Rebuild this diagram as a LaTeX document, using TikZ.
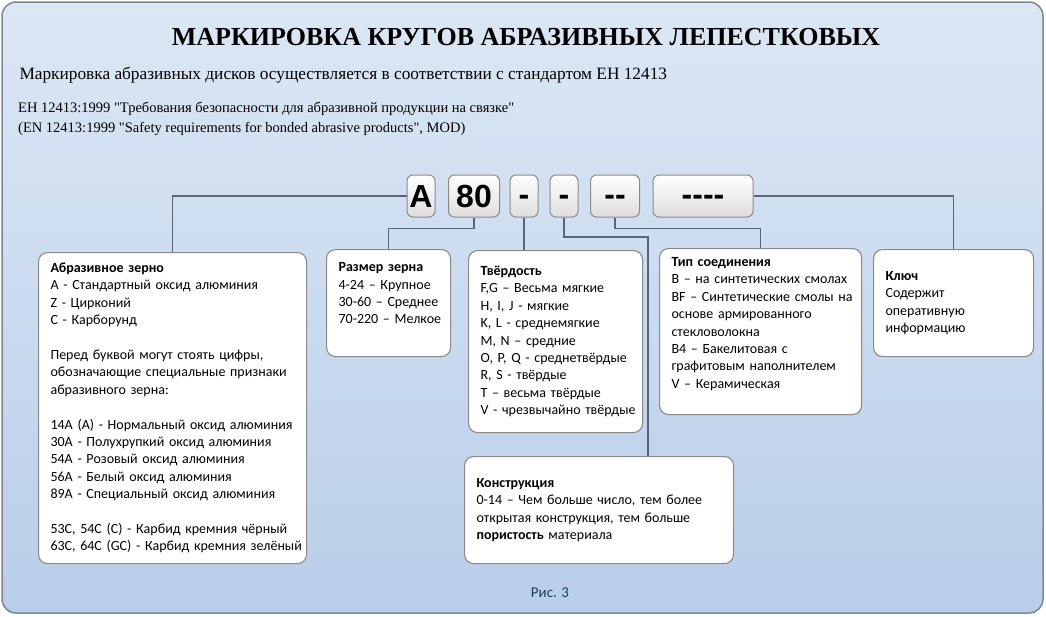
\documentclass[tikz,border=0pt]{standalone}
\usepackage{fontspec}
\setmainfont{Carlito}
\newfontfamily\headfont[Ligatures=TeXOff]{Liberation Serif}
\newfontfamily\codefont[Ligatures=TeXOff]{Liberation Sans}
\usetikzlibrary{positioning}
\definecolor{bgtop}{HTML}{DCE7F4}
\definecolor{bgbot}{HTML}{B9CEEA}
\definecolor{framecol}{HTML}{7D8793}
\definecolor{wirecol}{HTML}{5A6678}
\definecolor{boxline}{HTML}{8A8A8A}
\definecolor{capcol}{HTML}{1F3A60}
\newcommand{\padleft}{\setlength{\leftskip}{7pt}}
\newcommand{\spare}[1]{\\[#1]\mbox{}}
\tikzset{
  info/.style={draw=boxline, fill=white, rounded corners=9pt, line width=1.1pt,
    anchor=north west, align=left, inner xsep=5pt, inner ysep=4pt,
    execute at begin node={\padleft},
    font=\fontsize{14}{17.4}\selectfont},
  code/.style={draw=boxline, rounded corners=6pt, line width=1pt,
    top color=white, bottom color=black!13, minimum height=42pt, inner xsep=1pt,
    font=\codefont\bfseries\fontsize{32}{32}\selectfont},
  dashbox/.style={code, text height=18pt, text depth=0pt}
}
\begin{document}
\begin{tikzpicture}[x=1pt,y=-1pt]
\useasboundingbox (0,0) rectangle (1046,616);
% background panel
\shade[top color=bgtop, bottom color=bgbot, draw=framecol, line width=1.5pt,
  rounded corners=14pt] (2,2) rectangle (1043,613);

% headings
\node[font=\headfont\bfseries\fontsize{26}{26}\selectfont] (title) at (526,37)
  {МАРКИРОВКА КРУГОВ АБРАЗИВНЫХ ЛЕПЕСТКОВЫХ};
\node[anchor=west, font=\headfont\fontsize{17.3}{17.3}\selectfont] (intro) at (16,75)
  {Маркировка абразивных дисков осуществляется в соответствии с стандартом ЕН 12413};
\node[anchor=north west, align=left, inner sep=0pt,
  font=\headfont\fontsize{14.5}{20}\selectfont] (std) at (18,102)
  {ЕН 12413:1999 "Требования безопасности для абразивной продукции на связке"\\
   (EN 12413:1999 "Safety requirements for bonded abrasive products", MOD)};

% marking code
\node[code, minimum width=28pt]     (cA)  at (421,196) {A};
\node[code, minimum width=51pt]     (c80) at (474,196) {80};
\node[dashbox, minimum width=28pt]  (cH)  at (524,196) {-};
\node[dashbox, minimum width=28pt]  (cS)  at (564,196) {-};
\node[dashbox, minimum width=49pt]  (cB)  at (615,196) {--};
\node[dashbox, minimum width=100pt] (cK)  at (703,196) {----};

% description boxes
\node[info, text width=258pt, minimum height=311pt] (grain) at (38,252)
  {\textbf{Абразивное зерно}\\
   A - Стандартный оксид алюминия\\
   Z - Цирконий\\
   C - Карборунд\\[17.4pt]
   Перед буквой могут стоять цифры,\\
   обозначающие специальные признаки\\
   абразивного зерна:\\[17.4pt]
   14A (A) - Нормальный оксид алюминия\\
   30A - Полухрупкий оксид алюминия\\
   54A - Розовый оксид алюминия\\
   56A - Белый оксид алюминия\\
   89A - Специальный оксид алюминия\\[17.4pt]
   53C, 54C (C) - Карбид кремния чёрный\\
   \mbox{63C, 64C (GC) - Карбид кремния зелёный}};
\node[info, text width=114pt, minimum height=107pt] (size) at (326,249)
  {\textbf{Размер зерна}\\
   4-24 – Крупное\\
   30-60 – Среднее\\
   70-220 – Мелкое\spare{2pt}};
\node[info, text width=164pt, minimum height=182pt] (hard) at (468,250)
  {\textbf{Твёрдость}\\
   F,G – Весьма мягкие\\
   H, I, J - мягкие\\
   K, L - среднемягкие\\
   M, N – средние\\
   O, P, Q - среднетвёрдые\\
   R, S - твёрдые\\
   T – весьма твёрдые\\
   V - чрезвычайно твёрдые};
\node[info, text width=192pt, minimum height=166pt] (bond) at (659,248)
  {\textbf{Тип соединения}\\
   B – на синтетических смолах\\
   BF – Синтетические смолы на\\
   основе армированного\\
   стекловолокна\\
   B4 – Бакелитовая с\\
   графитовым наполнителем\\
   V – Керамическая\spare{0pt}};
\node[info, text width=150pt, minimum height=107pt] (key) at (873,249)
  {\textbf{Ключ}\\
   Содержит\\
   оперативную\\
   информацию};
\node[info, text width=259pt, minimum height=107pt] (constr) at (464,456)
  {\textbf{Конструкция}\\
   0-14 – Чем больше число, тем более\\
   открытая конструкция, тем больше\\
   \textbf{пористость} материала};

\node[text=capcol, font=\fontsize{15}{15}\selectfont] (fig) at (550,593) {Рис. 3};

% connectors
\coordinate (bend) at (648,237);
\draw[wirecol, line width=1.8pt] (cA.west) -| (grain.north);
\draw[wirecol, line width=1.8pt] (c80.south) -- ++(0,11) -| (size.north);
\draw[wirecol, line width=1.8pt] (cH.south) -- (cH.south |- hard.north);
\draw[wirecol, line width=1.8pt] (cS.south) |- (bend) -- (bend |- constr.north);
\draw[wirecol, line width=1.8pt] (cB.south) -- ++(0,11) -| (bond.north);
\draw[wirecol, line width=1.8pt] (cK.east) -| (key.north);
\end{tikzpicture}
\end{document}
